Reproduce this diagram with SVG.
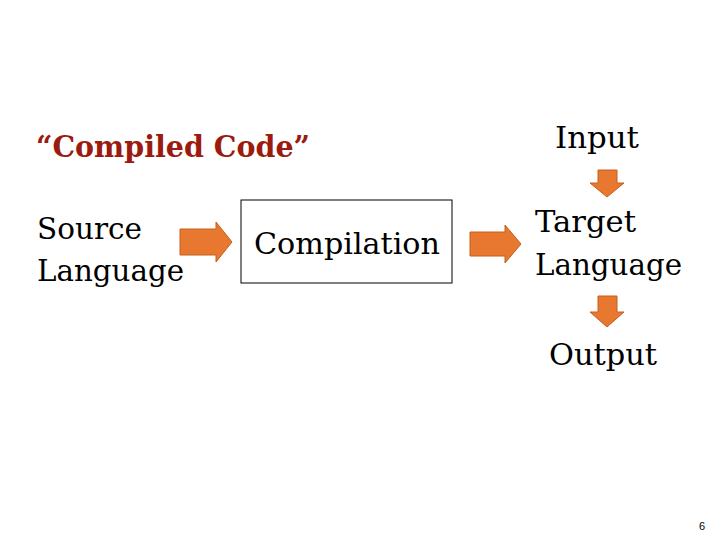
<svg xmlns="http://www.w3.org/2000/svg" width="720" height="540" viewBox="0 0 720 540">
<style>
.t{font-family:"DejaVu Serif","Liberation Serif",serif;font-size:29px;fill:#000}
.h{font-family:"DejaVu Serif","Liberation Serif",serif;font-size:29px;font-weight:bold;fill:#9b1b0e}
.a{fill:#e8782f;stroke:#c45f1e;stroke-width:1}
</style>
<rect width="720" height="540" fill="#fff"/>
<text class="h" x="36" y="157" textLength="274" lengthAdjust="spacingAndGlyphs">“Compiled Code”</text>
<g id="source"><text class="t" x="37" y="239" textLength="105" lengthAdjust="spacingAndGlyphs">Source</text><text class="t" x="37" y="281" textLength="147" lengthAdjust="spacingAndGlyphs">Language</text></g>
<g id="compilation"><rect x="241" y="200" width="211" height="83" fill="none" stroke="#000" stroke-width="1"/><text class="t" x="254" y="254" textLength="186" lengthAdjust="spacingAndGlyphs">Compilation</text></g>
<g id="input"><text class="t" x="555" y="148" textLength="84" lengthAdjust="spacingAndGlyphs">Input</text></g>
<g id="target"><text class="t" x="535" y="232" textLength="101" lengthAdjust="spacingAndGlyphs">Target</text><text class="t" x="535" y="275" textLength="147" lengthAdjust="spacingAndGlyphs">Language</text></g>
<g id="output"><text class="t" x="549" y="365" textLength="108" lengthAdjust="spacingAndGlyphs">Output</text></g>
<g id="connectors">
<polygon class="a" points="180,229 216,229 216,222 232,242 216,262 216,255 180,255"/>
<polygon class="a" points="470,232 505,232 505,225 521,244 505,263 505,256 470,256"/>
<polygon class="a" points="598,170 617,170 617,183 624,183 607,197 590,183 598,183"/>
<polygon class="a" points="598,296 617,296 617,312 624,312 607,327 590,312 598,312"/>
</g>
<text x="699" y="530" font-family="Liberation Sans,sans-serif" font-size="11">6</text>
</svg>
